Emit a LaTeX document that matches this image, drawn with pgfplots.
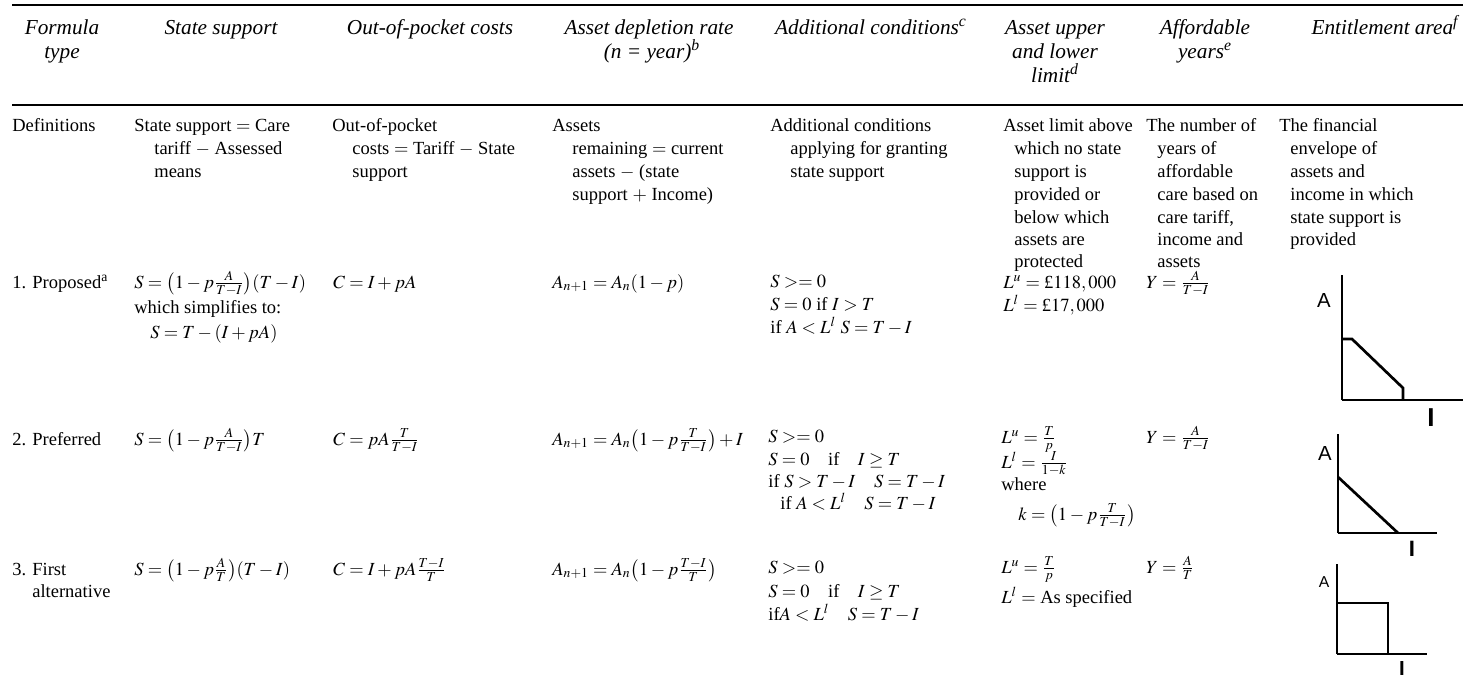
\documentclass[border=0pt]{standalone}
\usepackage{mathptmx}
\usepackage{fontspec}
\setmainfont{Liberation Serif}
\newfontfamily\dia{Liberation Sans}
\usepackage{pgfplots}
\pgfplotsset{compat=1.18}

% small entitlement-area sketches, drawn in pixel units of the table
\pgfplotsset{entitle/.style={
    x=0.5405pt, y=0.5405pt,
    axis lines=left,
    axis line style={-, line width=0.7pt},
    ticks=none, clip=false, enlargelimits=false,
    xmin=0, ymin=0, anchor=south west},
  area line/.style={black, line width=1.45pt}}

\begin{document}
\begin{tikzpicture}[x=0.5405pt, y=-0.5405pt,
  T/.style={anchor=base west, inner sep=0pt, font=\fontsize{10}{12}\selectfont},
  H/.style={anchor=base, inner sep=0pt, font=\fontsize{11.5}{13}\selectfont\itshape}]
\useasboundingbox (0,0) rectangle (1471,684);

\draw[line width=1.4pt] (12,5) -- (1463,5);
\draw[line width=1.4pt] (12,105) -- (1463,105);

% header
\node[H] at (62,34) {Formula};
\node[H] at (62,58) {type};
\node[H] at (221,34) {State support};
\node[H] at (430,34) {Out-of-pocket costs};
\node[H] at (649,34) {Asset depletion rate};
\node[H] at (652,58) {(n = year)\textsuperscript{b}};
\node[H] at (871,34) {Additional conditions\textsuperscript{c}};
\node[H] at (1055,34) {Asset upper};
\node[H] at (1055,58) {and lower};
\node[H] at (1055,82) {limit\textsuperscript{d}};
\node[H] at (1205,34) {Affordable};
\node[H] at (1205,58) {years\textsuperscript{e}};
\node[H] at (1385,34) {Entitlement area\textsuperscript{f}};

% definitions row
\node[T] at (12,131) {Definitions};
\node[T] at (134,131) {State support $=$ Care};
\node[T] at (154,154) {tariff $-$ Assessed};
\node[T] at (154,177) {means};
\node[T] at (332,131) {Out-of-pocket};
\node[T] at (352,154) {costs $=$ Tariff $-$ State};
\node[T] at (352,177) {support};
\node[T] at (552,131) {Assets};
\node[T] at (572,154) {remaining $=$ current};
\node[T] at (572,177) {assets $-$ (state};
\node[T] at (572,200) {support $+$ Income)};
\node[T] at (770,131) {Additional conditions};
\node[T] at (790,154) {applying for granting};
\node[T] at (790,177) {state support};
\node[T] at (1003,131) {Asset limit above};
\node[T] at (1014,154) {which no state};
\node[T] at (1014,177) {support is};
\node[T] at (1014,200) {provided or};
\node[T] at (1014,223) {below which};
\node[T] at (1014,245) {assets are};
\node[T] at (1014,267) {protected};
\node[T] at (1146,131) {The number of};
\node[T] at (1157,154) {years of};
\node[T] at (1157,177) {affordable};
\node[T] at (1157,200) {care based on};
\node[T] at (1157,223) {care tariff,};
\node[T] at (1157,245) {income and};
\node[T] at (1157,267) {assets};
\node[T] at (1279,131) {The financial};
\node[T] at (1290,154) {envelope of};
\node[T] at (1290,177) {assets and};
\node[T] at (1290,200) {income in which};
\node[T] at (1290,223) {state support is};
\node[T] at (1290,245) {provided};

% 1. proposed
\node[T] at (12,288) {1. Proposed\textsuperscript{a}};
\node[T] at (134,288) {$S=\bigl(1-p\frac{A}{T-I}\bigr)(T-I)$};
\node[T] at (134,313) {which simplifies to:};
\node[T] at (150,338) {$S=T-(I+pA)$};
\node[T] at (333,288) {$C=I+pA$};
\node[T] at (552,288) {$A_{n+1}=A_n(1-p)$};
\node[T] at (770,287) {$S>=0$};
\node[T] at (770,310) {$S=0$ if $I>T$};
\node[T] at (770,333) {if $A<L^l$ $S=T-I$};
\node[T] at (1003,288) {$L^u=\mbox{£}118,000$};
\node[T] at (1003,311) {$L^l=\mbox{£}17,000$};
\node[T] at (1146,288) {$Y=\frac{A}{T-I}$};

% 2. preferred
\node[T] at (12,445) {2. Preferred};
\node[T] at (134,445) {$S=\bigl(1-p\frac{A}{T-I}\bigr)T$};
\node[T] at (333,445) {$C=pA\frac{T}{T-I}$};
\node[T] at (552,445) {$A_{n+1}=A_n\bigl(1-p\frac{T}{T-I}\bigr)+I$};
\node[T] at (768,442) {$S>=0$};
\node[T] at (768,465) {$S=0$\quad if\quad $I\geq T$};
\node[T] at (768,487) {if $S>T-I$\quad $S=T-I$};
\node[T] at (780,509) {if $A<L^l$\quad $S=T-I$};
\node[T] at (1001,443) {$L^u=\frac{T}{p}$};
\node[T] at (1001,468) {$L^l=\frac{I}{1-k}$};
\node[T] at (1001,490) {where};
\node[T] at (1018,520) {$k=\bigl(1-p\frac{T}{T-I}\bigr)$};
\node[T] at (1146,443) {$Y=\frac{A}{T-I}$};

% 3. first alternative
\node[T] at (12,575) {3. First};
\node[T] at (32,597) {alternative};
\node[T] at (134,575) {$S=\bigl(1-p\frac{A}{T}\bigr)(T-I)$};
\node[T] at (333,575) {$C=I+pA\frac{T-I}{T}$};
\node[T] at (552,575) {$A_{n+1}=A_n\bigl(1-p\frac{T-I}{T}\bigr)$};
\node[T] at (768,573) {$S>=0$};
\node[T] at (768,597) {$S=0$\quad if\quad $I\geq T$};
\node[T] at (768,620) {if$A<L^l$\quad $S=T-I$};
\node[T] at (1001,573) {$L^u=\frac{T}{p}$};
\node[T] at (1001,603) {$L^l=$ As specified};
\node[T] at (1146,573) {$Y=\frac{A}{T}$};

% entitlement areas
\coordinate (d1) at (1342,400);
\coordinate (d2) at (1338,533);
\coordinate (d3) at (1337,654);

\begin{axis}[entitle, at={(d1)}, xmax=121, ymax=125]
\addplot[area line] coordinates {(0,61) (10,61) (61,12) (61,0)};
\node[font=\fontsize{11}{11}\dia] at (axis cs:-18,100) {A};
\node[font=\fontsize{14}{14}\dia\bfseries] at (axis cs:89,-18) {I};
\end{axis}

\begin{axis}[entitle, at={(d2)}, xmax=99, ymax=99]
\addplot[area line] coordinates {(0,56) (60,0)};
\node[font=\fontsize{11}{11}\dia] at (axis cs:-13,80) {A};
\node[font=\fontsize{12}{12}\dia\bfseries] at (axis cs:74,-16) {I};
\end{axis}

\begin{axis}[entitle, at={(d3)}, xmax=90, ymax=90]
\addplot[area line] coordinates {(0,51) (51,51) (51,0)};
\node[font=\fontsize{8.5}{8.5}\dia] at (axis cs:-13,72) {A};
\node[font=\fontsize{11}{11}\dia\bfseries] at (axis cs:65,-14) {I};
\end{axis}
\end{tikzpicture}
\end{document}
